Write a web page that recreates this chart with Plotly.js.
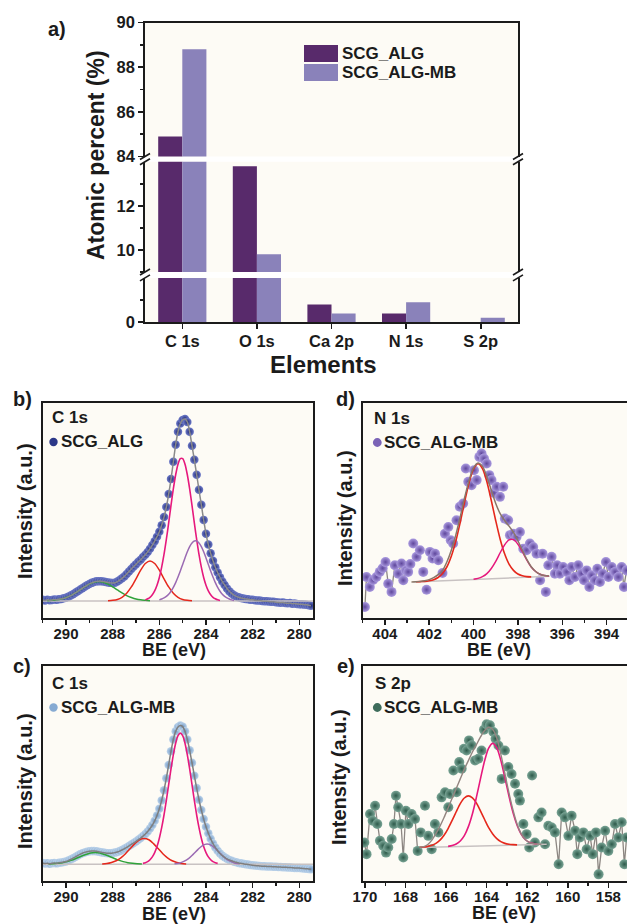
<!DOCTYPE html>
<html><head><meta charset="utf-8">
<script src="https://cdn.plot.ly/plotly-3.0.1.min.js"></script>
<style>html,body{margin:0;padding:0;background:#fff;}#chart{width:627px;height:924px;}</style>
</head><body><div id="chart"></div>
<script>
// ---------- Panel a: atomic percent ----------
const elements = ['C 1s','O 1s','Ca 2p','N 1s','S 2p'];
const atomicALG = [84.9, 13.8, 0.8, 0.4, 0];
const atomicALGMB = [88.8, 9.8, 0.4, 0.9, 0.2];

// ---------- Panels b & c: C 1s ----------
const c1sBE = [291.0,290.9,290.8,290.7,290.6,290.5,290.4,290.3,290.2,290.1,
290.0,289.9,289.8,289.7,289.6,289.5,289.4,289.3,289.2,289.1,
289.0,288.9,288.8,288.7,288.6,288.5,288.4,288.3,288.2,288.1,
288.0,287.9,287.8,287.7,287.6,287.5,287.4,287.3,287.2,287.1,
287.0,286.9,286.8,286.7,286.6,286.5,286.4,286.3,286.2,286.1,
286.0,285.9,285.8,285.7,285.6,285.5,285.4,285.3,285.2,285.1,
285.0,284.9,284.8,284.7,284.6,284.5,284.4,284.3,284.2,284.1,
284.0,283.9,283.8,283.7,283.6,283.5,283.4,283.3,283.2,283.1,
283.0,282.9,282.8,282.7,282.6,282.5,282.4,282.3,282.2,282.1,
282.0,281.9,281.8,281.7,281.6,281.5,281.4,281.3,281.2,281.1,
281.0,280.9,280.8,280.7,280.6,280.5,280.4,280.3,280.2,280.1,
280.0,279.9,279.8,279.7,279.6,279.5];
const bInt = [8.3,8.0,8.4,8.1,8.2,8.5,8.3,8.6,8.7,9.0,
9.3,9.8,10.3,10.9,11.6,12.3,13.0,13.7,14.4,15.1,
15.7,16.2,16.6,16.9,17.0,17.0,16.8,16.6,16.4,16.2,
16.1,16.3,16.8,17.5,18.3,19.2,20.3,21.5,22.7,23.8,
24.9,26.0,27.0,28.2,29.3,30.6,32.1,33.8,35.6,37.7,
40.0,43.0,46.8,51.5,57.5,64.5,72.5,80.5,86.5,90.3,
92.0,92.4,91.0,86.5,80.0,73.5,66.5,59.5,52.5,45.5,
39.0,34.0,30.0,26.5,23.5,21.0,18.8,16.8,15.2,13.6,
12.3,11.3,10.5,9.9,9.5,9.2,8.9,8.7,8.6,8.4,
8.3,8.1,8.0,8.0,7.8,7.7,7.7,7.5,7.4,7.4,
7.2,7.1,7.0,7.1,6.8,6.7,6.8,6.5,6.6,6.4,
6.3,6.2,6.1,6.0,5.8,5.6];
const cInt = [8.4,8.1,8.3,8.0,8.3,8.4,8.2,8.5,8.6,8.8,
9.1,9.5,10.0,10.6,11.2,11.8,12.4,12.9,13.3,13.6,
13.8,13.9,13.9,13.8,13.6,13.4,13.2,13.0,12.9,12.9,
13.0,13.2,13.5,13.9,14.4,15.0,15.6,16.3,17.0,17.7,
18.4,19.2,20.0,20.9,21.9,23.0,24.4,26.0,28.0,30.5,
33.6,37.5,42.2,47.8,54.0,60.3,65.8,69.6,71.6,72.3,
71.8,69.6,65.8,60.8,55.0,49.0,43.2,37.8,33.0,28.8,
25.2,22.2,19.6,17.4,15.6,14.1,12.8,11.8,11.0,10.3,
9.8,9.4,9.0,8.7,8.4,8.2,8.0,7.8,7.7,7.5,
7.3,7.2,7.1,7.0,6.9,6.9,6.8,6.7,6.7,6.6,
6.6,6.5,6.5,6.4,6.4,6.3,6.3,6.2,6.1,6.1,
6.0,5.9,5.8,5.7,5.6,5.5];

const c1sBaseBE = [291.0, 279.4];
const bBase = [7.8, 7.8];
const cBase = [7.8, 7.8];

const bGreenBE = [290.8,290.6,290.4,290.2,290.0,289.8,289.6,289.4,289.2,289.0,288.8,288.6,288.4,288.2,288.0,287.8,287.6,287.4,287.2,287.0,286.8,286.6,286.4];
const bGreen = [7.9,8.1,8.3,8.7,9.4,10.3,11.5,12.9,14.3,15.6,16.5,16.8,16.5,15.6,14.3,12.9,11.5,10.3,9.4,8.7,8.3,8.1,7.9];
const bRedBE = [288.2,288.0,287.8,287.6,287.4,287.2,287.0,286.8,286.6,286.4,286.2,286.0,285.8,285.6,285.4,285.2,285.0,284.8,284.6];
const bRed = [7.9,8.1,8.5,9.5,11.4,14.3,18.1,22.1,25.2,26.4,25.2,22.1,18.1,14.3,11.4,9.5,8.5,8.1,7.9];
const bPinkBE = [286.6,286.5,286.4,286.3,286.2,286.1,286.0,285.9,285.8,285.7,285.6,285.5,285.4,285.3,285.2,285.1,285.0,284.9,284.8,284.7,284.6,284.5,284.4,284.3,284.2,284.1,284.0,283.9,283.8,283.7,283.6,283.5,283.4];
const bPink = [8.3,8.8,9.5,10.7,12.5,15.1,18.7,23.5,29.4,36.4,44.1,52.2,59.9,66.5,71.4,74.0,74.0,71.4,66.5,59.9,52.2,44.1,36.4,29.4,23.5,18.7,15.1,12.5,10.7,9.5,8.8,8.3,8.0];
const bPurpleBE = [286.0,285.9,285.8,285.7,285.6,285.5,285.4,285.3,285.2,285.1,285.0,284.9,284.8,284.7,284.6,284.5,284.4,284.3,284.2,284.1,284.0,283.9,283.8,283.7,283.6,283.5,283.4,283.3,283.2,283.1,283.0,282.9,282.8];
const bPurple = [8.3,8.7,9.2,9.9,10.9,12.3,14.1,16.3,18.9,21.7,24.8,27.8,30.7,33.1,34.8,35.7,35.7,34.8,33.1,30.7,27.8,24.8,21.7,18.9,16.3,14.1,12.3,10.9,9.9,9.2,8.7,8.3,8.0];

const cGreenBE = [290.75,290.55,290.35,290.15,289.95,289.75,289.55,289.35,289.15,288.95,288.75,288.55,288.35,288.15,287.95,287.75,287.55,287.35,287.15,286.95,286.75];
const cGreen = [7.9,8.0,8.2,8.5,9.0,9.7,10.6,11.5,12.3,13.0,13.2,13.0,12.3,11.5,10.6,9.7,9.0,8.5,8.2,8.0,7.9];
const cRedBE = [288.45,288.25,288.05,287.85,287.65,287.45,287.25,287.05,286.85,286.65,286.45,286.25,286.05,285.85,285.65,285.45,285.25,285.05,284.85];
const cRed = [7.9,8.1,8.6,9.4,10.8,12.7,15.1,17.4,19.2,19.8,19.2,17.4,15.1,12.7,10.8,9.4,8.6,8.1,7.9];
const cPinkBE = [286.7,286.6,286.5,286.4,286.3,286.2,286.1,286.0,285.9,285.8,285.7,285.6,285.5,285.4,285.3,285.2,285.1,285.0,284.9,284.8,284.7,284.6,284.5,284.4,284.3,284.2,284.1,284.0,283.9,283.8,283.7,283.6,283.5];
const cPink = [8.2,8.5,9.0,9.9,11.2,13.2,16.0,19.9,24.8,30.7,37.5,44.8,52.1,58.7,64.1,67.6,68.8,67.6,64.1,58.7,52.1,44.8,37.5,30.7,24.8,19.9,16.0,13.2,11.2,9.9,9.0,8.5,8.2];
const cPurpleBE = [285.35,285.15,284.95,284.75,284.55,284.35,284.15,283.95,283.75,283.55,283.35,283.15,282.95,282.75,282.55];
const cPurple = [8.0,8.3,9.1,10.4,12.4,14.6,16.5,17.2,16.5,14.6,12.4,10.4,9.1,8.3,8.0];

// ---------- Panel d: N 1s ----------
const dBE = [404.9,404.83,404.68,404.53,404.38,404.23,404.1,403.97,403.85,403.7,
403.55,403.4,403.25,403.17,403.05,402.95,402.85,402.72,402.57,402.42,
402.27,402.12,401.97,401.85,401.74,401.59,401.4,401.29,401.14,401.03,
400.92,400.77,400.62,400.47,400.35,400.24,400.09,399.98,399.86,399.74,
399.64,399.53,399.41,399.29,399.19,399.08,398.96,398.81,398.66,398.59,
398.44,398.36,398.21,398.06,397.91,397.76,397.61,397.46,397.31,397.16,
397.0,396.89,396.74,396.63,396.48,396.33,396.23,396.11,395.96,395.8,
395.68,395.58,395.43,395.28,395.13,395.02,394.9,394.78,394.68,394.53,
394.42,394.3,394.18,394.03,393.92,393.77,393.62,393.47,393.32,393.22,393.1];
const dInt = [5.0,18.9,14.3,17.5,18.9,21.3,23.0,25.9,15.8,12.0,
24.4,20.5,25.2,17.4,22.0,21.3,25.0,34.5,28.3,31.4,
21.3,13.0,30.6,27.5,29.8,26.7,20.8,39.1,42.2,36.0,
34.5,45.3,51.6,53.1,69.4,63.2,61.6,68.6,64.0,74.8,
76.4,74.0,71.7,66.3,64.0,58.0,60.9,56.2,60.9,46.1,
45.3,38.4,39.1,37.6,39.9,32.1,31.4,34.5,32.9,29.8,
17.4,29.8,12.0,24.4,28.3,20.5,24.4,20.5,23.6,21.3,
17.4,23.6,18.9,24.4,20.5,17.4,22.0,14.3,19.7,17.4,
22.8,16.6,20.5,25.9,18.9,23.6,21.3,18.9,23.6,14.3,22.0];
const dBaseBE = [402.72, 396.56];
const dBase = [16.6, 19.3];
const dRedBE = [402.6,402.4,402.2,402.0,401.8,401.6,401.4,401.2,401.0,400.8,400.6,400.4,400.2,400.0,399.8,399.6,399.4,399.2,399.0,398.8,398.6,398.4,398.2,398.0,397.8,397.6,397.4];
const dRed = [16.7,16.8,16.9,17.2,17.7,18.7,20.6,23.7,28.7,35.6,44.4,54.0,62.9,69.2,71.6,69.4,63.2,54.5,45.1,36.5,29.7,24.9,22.0,20.3,19.5,19.1,19.0];
const dPinkBE = [400.0,399.8,399.6,399.4,399.2,399.0,398.8,398.6,398.4,398.2,398.0,397.8,397.6,397.4,397.2,397.0,396.8,396.6];
const dPink = [17.9,18.3,19.1,20.5,22.9,26.2,30.2,33.9,36.2,36.3,34.2,30.7,26.9,23.6,21.5,20.2,19.6,19.4];
const dEnvBE = [402.8,402.6,402.4,402.2,402.0,401.8,401.6,401.4,401.2,401.0,400.8,400.6,400.4,400.2,400.0,399.8,399.6,399.4,399.2,399.0,398.8,398.6,398.4,398.2,398.0,397.8,397.6,397.4,397.2,397.0,396.8,396.6];
const dEnv = [16.6,16.7,16.9,17.2,17.7,18.6,20.0,22.0,26.0,31.5,38.5,47.0,56.0,64.0,69.8,72.0,70.5,65.6,59.3,53.1,48.4,45.2,42.6,39.7,35.8,31.4,27.1,23.7,21.5,20.2,19.6,19.4];

// ---------- Panel e: S 2p ----------
const eBE = [170.03,169.92,169.75,169.62,169.5,169.39,169.26,169.1,168.96,168.85,
168.68,168.57,168.47,168.36,168.22,168.11,167.98,167.86,167.7,167.53,
167.4,167.25,167.04,166.88,166.71,166.55,166.38,166.22,166.05,165.89,
165.81,165.64,165.48,165.35,165.23,165.12,164.99,164.87,164.74,164.57,
164.41,164.25,164.13,164.0,163.84,163.67,163.56,163.42,163.26,163.1,
162.93,162.77,162.6,162.44,162.36,162.19,162.03,161.9,161.76,161.62,
161.45,161.29,161.12,160.96,160.79,160.63,160.45,160.3,160.14,159.97,
159.81,159.64,159.53,159.4,159.23,159.07,158.9,158.77,158.61,158.48,
158.33,158.16,158.0,157.83,157.67,157.51,157.34,157.21,157.1];
const eInt = [17.9,12.5,31.2,28.0,35.0,26.5,18.7,16.4,13.2,15.6,
19.5,26.5,39.7,34.3,26.5,10.9,32.7,26.5,31.2,28.8,
14.0,22.6,35.0,21.0,14.8,26.5,22.6,38.9,41.3,34.3,
40.5,51.4,41.3,55.3,52.2,61.5,60.7,65.4,63.1,56.1,
56.9,60.7,70.4,72.9,72.4,69.3,66.2,63.0,47.5,60.7,
53.0,49.8,45.2,40.5,37.4,26.5,21.8,15.6,49.1,17.9,
29.6,31.9,17.1,25.7,24.9,22.6,7.8,31.9,29.6,21.0,
30.4,23.4,12.5,20.2,22.6,14.8,21.0,12.5,22.6,3.1,
15.6,23.4,14.0,17.1,26.5,20.2,27.3,7.8,20.2];
const eBaseBE = [167.29, 161.04];
const eBase = [15.6, 17.1];
const eRedBE = [167.3,167.1,166.9,166.7,166.5,166.3,166.1,165.9,165.7,165.5,165.3,165.1,164.9,164.7,164.5,164.3,164.1,163.9,163.7,163.5,163.3,163.1,162.9,162.7,162.5];
const eRed = [15.7,15.8,16.1,16.6,17.5,19.0,21.3,24.4,28.2,32.2,36.0,38.6,39.6,38.7,36.2,32.5,28.6,24.8,21.9,19.7,18.3,17.5,17.1,16.9,16.8];
const ePinkBE = [165.9,165.7,165.5,165.3,165.1,164.9,164.7,164.5,164.3,164.1,163.9,163.7,163.5,163.3,163.1,162.9,162.7,162.5,162.3,162.1,161.9,161.7,161.5];
const ePink = [16.1,16.5,17.2,18.6,21.1,25.3,31.3,39.1,47.7,55.9,61.8,64.0,61.9,56.1,48.0,39.5,31.8,25.9,21.8,19.3,18.0,17.4,17.2];
const eEnvBE = [167.3,167.1,166.9,166.7,166.5,166.3,166.1,165.9,165.7,165.5,165.3,165.1,164.9,164.7,164.5,164.3,164.1,163.9,163.7,163.5,163.3,163.1,162.9,162.7,162.5,162.3,162.1,161.9,161.7,161.5,161.3];
const eEnv = [15.7,16.0,17.0,19.0,22.0,25.5,29.5,34.0,38.5,43.0,47.5,52.0,56.0,60.0,63.5,67.0,70.0,71.5,70.5,66.5,59.0,50.0,41.0,33.0,26.5,22.0,19.3,18.0,17.4,17.2,17.1];

// ---------- helpers ----------
const W = 627, H = 924;
const px = v => v / W;
const py = v => 1 - v / H;
const FONT = 'Arial, "Liberation Sans", sans-serif';
const INK = '#1b1b1b';
const COL = {alg:'#582a6b', mb:'#8a82ba', pink:'#e6197d', red:'#e5281c', green:'#2fa23a', purple:'#9b6bb3', base:'#c8c2c2', env:'#8a8a8a'};

// line segments of a noisy trace outside the fitted window
function outside(xs, ys, hi, lo) {
  const X = [], Y = []; let gap = false;
  xs.forEach((x, i) => {
    if (x > hi || x < lo) { X.push(x); Y.push(ys[i]); gap = false; }
    else if (!gap) { X.push(null); Y.push(null); gap = true; }
  });
  return {X, Y};
}

const traces = [];
// Panel a bars on three broken segments
[['x','y'],['x2','y2'],['x3','y3']].forEach(([xa, ya]) => {
  traces.push({type:'bar', x:elements, y:atomicALG, xaxis:xa, yaxis:ya, marker:{color:COL.alg, line:{width:0}}, showlegend:false, name:'SCG_ALG'});
  traces.push({type:'bar', x:elements, y:atomicALGMB, xaxis:xa, yaxis:ya, marker:{color:COL.mb, line:{width:0}}, showlegend:false, name:'SCG_ALG-MB'});
});

function line(x, y, xa, ya, color, width, spline) {
  return {type:'scatter', mode:'lines', x, y, xaxis:xa, yaxis:ya, showlegend:false, hoverinfo:'skip',
    line:{color, width, shape: spline ? 'spline' : 'linear', smoothing: 0.8}};
}
function dots(x, y, xa, ya, c1, c2, size) {
  return {type:'scatter', mode:'markers', x, y, xaxis:xa, yaxis:ya, showlegend:false,
    marker:{size, color:c1, gradient:{type:'radial', color:c2}, line:{width:0}}};
}

// Panel b
traces.push(dots(c1sBE, bInt, 'x4', 'y4', '#6e7bc9', '#1e2774', 8.5));
traces.push(line(c1sBaseBE, bBase, 'x4', 'y4', COL.base, 1.5));
traces.push(line(bGreenBE, bGreen, 'x4', 'y4', COL.green, 1.5, true));
traces.push(line(bRedBE, bRed, 'x4', 'y4', COL.red, 1.5, true));
traces.push(line(bPinkBE, bPink, 'x4', 'y4', COL.pink, 1.6, true));
traces.push(line(bPurpleBE, bPurple, 'x4', 'y4', COL.purple, 1.5, true));
traces.push(line(c1sBE, bInt, 'x4', 'y4', COL.env, 1.5, true));

// Panel c
traces.push(dots(c1sBE, cInt, 'x5', 'y5', '#bcd3ea', '#6d96c4', 8.5));
traces.push(line(c1sBaseBE, cBase, 'x5', 'y5', COL.base, 1.5));
traces.push(line(cGreenBE, cGreen, 'x5', 'y5', COL.green, 1.5, true));
traces.push(line(cRedBE, cRed, 'x5', 'y5', COL.red, 1.5, true));
traces.push(line(cPinkBE, cPink, 'x5', 'y5', COL.pink, 1.6, true));
traces.push(line(cPurpleBE, cPurple, 'x5', 'y5', COL.purple, 1.5, true));
traces.push(line(c1sBE, cInt, 'x5', 'y5', '#7f7f7f', 1.5, true));

// Panel d
const dLine = outside(dBE, dInt, 402.8, 396.6);
traces.push(line(dLine.X, dLine.Y, 'x6', 'y6', '#8c8682', 1.3));
traces.push(dots(dBE, dInt, 'x6', 'y6', '#ab9be0', '#5f479c', 10));
traces.push(line(dBaseBE, dBase, 'x6', 'y6', COL.base, 1.5));
traces.push(line(dRedBE, dRed, 'x6', 'y6', COL.red, 1.6, true));
traces.push(line(dPinkBE, dPink, 'x6', 'y6', COL.pink, 1.5, true));
traces.push(line(dEnvBE, dEnv, 'x6', 'y6', '#8a7668', 1.5, true));

// Panel e
const eLine = outside(eBE, eInt, 167.3, 161.1);
traces.push(line(eLine.X, eLine.Y, 'x7', 'y7', '#8c8682', 1.3));
traces.push(dots(eBE, eInt, 'x7', 'y7', '#7aa596', '#2d5a4a', 10));
traces.push(line(eBaseBE, eBase, 'x7', 'y7', COL.base, 1.5));
traces.push(line(eRedBE, eRed, 'x7', 'y7', COL.red, 1.6, true));
traces.push(line(ePinkBE, ePink, 'x7', 'y7', COL.pink, 1.6, true));
traces.push(line(eEnvBE, eEnv, 'x7', 'y7', '#938580', 1.4, true));

// ---------- axes ----------
const tickFontA = {family:FONT, size:16.5, color:INK, weight:'bold'};
const tickFontB = {family:FONT, size:15, color:INK, weight:'bold'};
const lineStyle = {showline:true, linecolor:INK, linewidth:1.8, showgrid:false, zeroline:false};

const xA = [px(145), px(518)];
const layout = {
  width:W, height:H, margin:{l:0, r:0, t:0, b:0},
  paper_bgcolor:'#ffffff', plot_bgcolor:'#fdfbf5',
  barmode:'group', bargap:0.354, bargroupgap:0,
  showlegend:false,
  xaxis:Object.assign({}, lineStyle, {domain:xA, anchor:'y', type:'category', categoryorder:'array', categoryarray:elements,
    range:[-0.5, 4.5], ticks:'outside', ticklen:5, tickwidth:1.6, tickcolor:INK, tickfont:tickFontA, ticklabelstandoff:-2}),
  xaxis2:{domain:xA, anchor:'y2', matches:'x', type:'category', visible:false},
  xaxis3:Object.assign({}, lineStyle, {domain:xA, anchor:'y3', matches:'x', type:'category', side:'top', ticks:'', showticklabels:false}),
  yaxis:Object.assign({}, lineStyle, {domain:[py(322.3), py(277.9)], anchor:'x', range:[0, 2], mirror:true,
    tickmode:'array', tickvals:[0], ticks:'outside', ticklen:5, tickwidth:1.6, tickcolor:INK, tickfont:tickFontA,
    minor:{tickmode:'array', tickvals:[1], ticks:'outside', ticklen:3, tickwidth:1.4, tickcolor:INK}}),
  yaxis2:Object.assign({}, lineStyle, {domain:[py(272), py(161.8)], anchor:'x2', range:[9, 14], mirror:true,
    tickmode:'array', tickvals:[10, 12], ticks:'outside', ticklen:5, tickwidth:1.6, tickcolor:INK, tickfont:tickFontA,
    minor:{tickmode:'array', tickvals:[9, 11, 13], ticks:'outside', ticklen:3, tickwidth:1.4, tickcolor:INK}}),
  yaxis3:Object.assign({}, lineStyle, {domain:[py(156.5), py(22.5)], anchor:'x3', range:[84, 90], mirror:true,
    tickmode:'array', tickvals:[84, 86, 88, 90], ticks:'outside', ticklen:5, tickwidth:1.6, tickcolor:INK, tickfont:tickFontA,
    minor:{tickmode:'array', tickvals:[85, 87, 89], ticks:'outside', ticklen:3, tickwidth:1.4, tickcolor:INK}}),
};

function specX(domain, anchor, range) {
  return Object.assign({}, lineStyle, {domain, anchor, range, autorange:false, mirror:true,
    ticks:'outside', ticklen:5, tickwidth:1.5, tickcolor:INK, tick0:0, dtick:2, tickfont:tickFontB, ticklabelstandoff:-4,
    minor:{dtick:1, ticks:'outside', ticklen:3, tickwidth:1.3, tickcolor:INK}});
}
function specY(domain, anchor, mirror) {
  return Object.assign({}, lineStyle, {domain, anchor, range:[0, 100], mirror, ticks:'', showticklabels:false});
}
const xL = [px(42.7), px(313.3)], xR = [px(362.7), 1];
const yTop = [py(617.7), py(402.7)], yBot = [py(881), py(666)];
layout.xaxis4 = specX(xL, 'y4', [291.0, 279.4]);
layout.yaxis4 = specY(yTop, 'x4', true);
layout.xaxis5 = specX(xL, 'y5', [291.0, 279.4]);
layout.yaxis5 = specY(yBot, 'x5', true);
layout.xaxis6 = specX(xR, 'y6', [405.0, 393.08]);
layout.yaxis6 = specY(yTop, 'x6', false);
layout.xaxis7 = specX(xR, 'y7', [170.11, 157.08]);
layout.yaxis7 = specY(yBot, 'x7', false);

// ---------- text ----------
function ann(text, x, y, size, opts) {
  return Object.assign({text, x:px(x), y:py(y), xref:'paper', yref:'paper', showarrow:false,
    xanchor:'center', yanchor:'middle', font:{family:FONT, size, color:INK, weight:'bold'}}, opts || {});
}
layout.annotations = [
  ann('a)', 57, 29, 20),
  ann('Atomic percent (%)', 96, 155, 23, {textangle:-90}),
  ann('Elements', 323, 364, 24),
  ann('SCG_ALG', 340, 53.5, 17, {xanchor:'left'}),
  ann('SCG_ALG-MB', 340, 72.5, 17, {xanchor:'left'}),
  ann('b)', 22, 399, 20), ann('c)', 22, 666, 20), ann('d)', 345, 399, 20), ann('e)', 346, 666, 20),
  ann('C 1s', 50, 418, 17, {xanchor:'left'}),
  ann('SCG_ALG', 58.5, 442, 17, {xanchor:'left'}),
  ann('C 1s', 50, 683, 17, {xanchor:'left'}),
  ann('SCG_ALG-MB', 58.5, 707.5, 17, {xanchor:'left'}),
  ann('N 1s', 372, 418.5, 17, {xanchor:'left'}),
  ann('SCG_ALG-MB', 381.5, 442.5, 17, {xanchor:'left'}),
  ann('S 2p', 373, 683.5, 17, {xanchor:'left'}),
  ann('SCG_ALG-MB', 381.5, 707.5, 17, {xanchor:'left'}),
  ann('Intensity (a.u.)', 25, 511, 20, {textangle:-90}),
  ann('Intensity (a.u.)', 25, 781, 20, {textangle:-90}),
  ann('Intensity (a.u.)', 345, 518, 20, {textangle:-90}),
  ann('Intensity (a.u.)', 339, 777, 20, {textangle:-90}),
  ann('BE (eV)', 174, 650, 18), ann('BE (eV)', 174, 914, 18),
  ann('BE (eV)', 499, 650, 18), ann('BE (eV)', 504, 913, 18)
];

// ---------- decorations: legend keys, label dots, axis-break marks ----------
const shapes = [];
function rect(x0, y0, x1, y1, color) {
  shapes.push({type:'rect', xref:'paper', yref:'paper', x0:px(x0), x1:px(x1), y0:py(y1), y1:py(y0), fillcolor:color, line:{width:0}});
}
rect(304, 45, 338, 62, COL.alg);
rect(304, 64, 338, 81, COL.mb);
function dot(cx, cy, color, r) {
  shapes.push({type:'circle', xref:'paper', yref:'paper', x0:px(cx - r), x1:px(cx + r), y0:py(cy + r), y1:py(cy - r), fillcolor:color, line:{width:0}});
}
dot(53.5, 442, '#2c3888', 4.2);
dot(53.5, 707.5, '#86aad2', 4.2);
dot(377.3, 442.5, '#7b63b6', 4.4);
dot(377.3, 707.5, '#3e6c5b', 4.4);
function brk(x, y) {
  shapes.push({type:'line', xref:'paper', yref:'paper', x0:px(x - 5), x1:px(x + 5), y0:py(y + 3), y1:py(y - 3), line:{color:INK, width:1.6}});
}
[145, 518].forEach(x => { brk(x, 156.5); brk(x, 161.8); brk(x, 272); brk(x, 277.9); });
layout.shapes = shapes;

Plotly.newPlot('chart', traces, layout, {staticPlot:true, displayModeBar:false});
</script>
</body></html>
